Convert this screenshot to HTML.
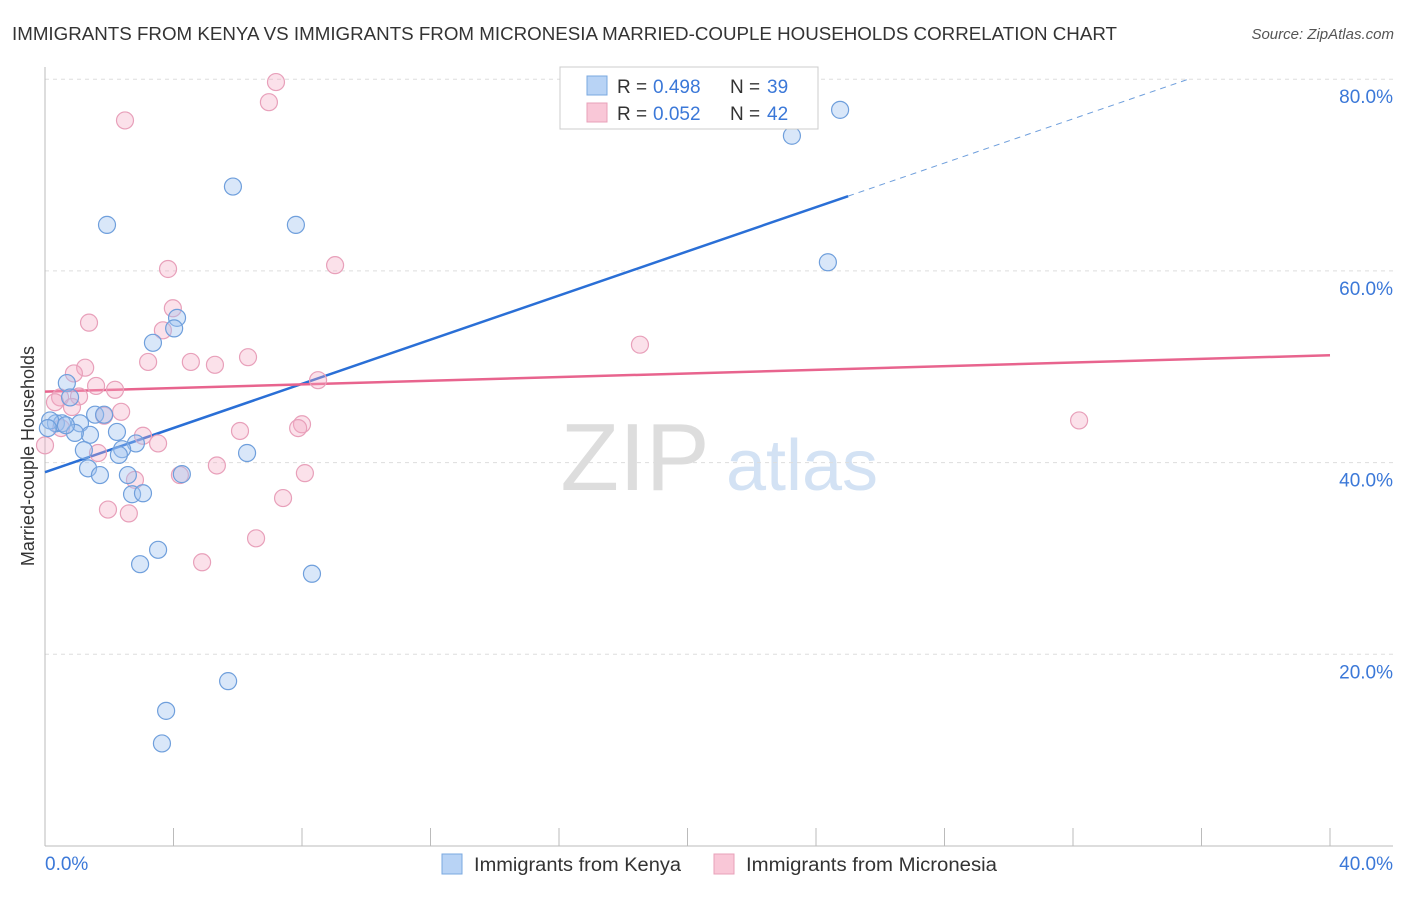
<!DOCTYPE html>
<html><head><meta charset="utf-8">
<style>
body{margin:0;background:#fff;font-family:"Liberation Sans",sans-serif;}
svg text{font-family:"Liberation Sans",sans-serif;}
</style></head>
<body>
<svg id="chart" width="1406" height="892">
<text x="12" y="40" font-size="18" fill="#333" textLength="1105" lengthAdjust="spacingAndGlyphs">IMMIGRANTS FROM KENYA VS IMMIGRANTS FROM MICRONESIA MARRIED-COUPLE HOUSEHOLDS CORRELATION CHART</text>
<text x="1394" y="39" font-size="15" fill="#555" text-anchor="end" font-style="italic">Source: ZipAtlas.com</text>
<g>
<text x="635" y="490" font-size="96" fill="#ddd" font-family="Liberation Serif" text-anchor="middle">ZIP</text>
<text x="802" y="490" font-size="72" fill="#d3e2f4" text-anchor="middle">atlas</text>
</g>
<g id="grid"></g>
<g id="axes"></g>
<g id="lines"></g>
<g id="points"></g>
<text transform="translate(34,456) rotate(-90)" font-size="18" fill="#333" text-anchor="middle">Married-couple Households</text>
<g>
<rect x="560" y="67" width="258" height="62" fill="#fff" stroke="#ccc"/>
<rect x="587" y="76" width="20" height="19" fill="#b8d3f5" stroke="#7aa8e0"/>
<rect x="587" y="103" width="20" height="19" fill="#f9c7d7" stroke="#e8a0ba"/>
<text x="617" y="93" font-size="19" fill="#333">R =</text><text x="653" y="93" font-size="19" fill="#3b78d8">0.498</text>
<text x="730" y="93" font-size="19" fill="#333">N =</text><text x="767" y="93" font-size="19" fill="#3b78d8">39</text>
<text x="617" y="120" font-size="19" fill="#333">R =</text><text x="653" y="120" font-size="19" fill="#3b78d8">0.052</text>
<text x="730" y="120" font-size="19" fill="#333">N =</text><text x="767" y="120" font-size="19" fill="#3b78d8">42</text>
</g>
<g>
<rect x="442" y="854" width="20" height="20" fill="#b8d3f5" stroke="#7aa8e0"/>
<text x="474" y="871" font-size="19" fill="#333" textLength="207" lengthAdjust="spacingAndGlyphs">Immigrants from Kenya</text>
<rect x="714" y="854" width="20" height="20" fill="#f9c7d7" stroke="#e8a0ba"/>
<text x="746" y="871" font-size="19" fill="#333" textLength="251" lengthAdjust="spacingAndGlyphs">Immigrants from Micronesia</text>
</g>
</svg>
<script>
const yTicks=[20,40,60,80];
const yTickLabels=["20.0%","40.0%","60.0%","80.0%"];
const xEndLabels=["0.0%","40.0%"];
const kenyaX=[24.75,23.25,5.85,1.93,7.81,24.37,4.11,4.02,3.36,0.68,0.78,1.56,1.84,1.09,0.34,0.53,0.16,1.40,0.93,2.24,2.83,1.21,2.40,2.30,6.29,1.34,1.71,2.58,4.26,2.71,3.05,3.52,2.96,8.31,5.70,3.77,3.64,0.09,0.65];
const kenyaY=[76.8,74.1,68.8,64.8,64.8,60.9,55.1,54.0,52.5,48.3,46.8,45.0,45.0,44.1,44.1,44.1,44.4,42.9,43.1,43.2,42.0,41.3,41.4,40.8,41.0,39.4,38.7,38.7,38.8,36.7,36.8,30.9,29.4,28.4,17.2,14.1,10.7,43.6,43.9];
const micX=[7.19,6.97,2.49,3.83,9.03,3.98,1.37,3.67,18.52,3.21,6.32,4.54,5.29,1.25,0.90,1.59,8.50,2.18,1.06,0.47,0.84,0.31,1.84,2.37,0.50,0.0,8.0,7.88,6.07,3.05,3.52,1.65,32.19,2.80,5.35,8.09,4.20,7.41,1.96,2.61,6.57,4.89];
const micY=[79.7,77.6,75.7,60.2,60.6,56.1,54.6,53.8,52.3,50.5,51.0,50.5,50.2,49.9,49.3,48.0,48.6,47.6,46.9,46.8,45.8,46.3,44.9,45.3,43.6,41.8,44.0,43.6,43.3,42.8,42.0,41.0,44.4,38.2,39.7,38.9,38.7,36.3,35.1,34.7,32.1,29.6];
const kenyaTrend=[39.0,1.152];
const micTrend=[47.4,0.095];
const NS="http://www.w3.org/2000/svg";
const xs=v=>45+v/40*1285;
const ys=v=>846-v/20*191.7;
function mk(tag,attrs,parent){const e=document.createElementNS(NS,tag);for(const k in attrs)e.setAttribute(k,attrs[k]);document.getElementById(parent).appendChild(e);return e;}
yTicks.forEach((t,i)=>{
 const g=mk('line',{x1:45,x2:1393,y1:ys(t),y2:ys(t),stroke:'#ddd','stroke-dasharray':'4,4'},'grid');
 
 
 const l=mk('text',{x:1393,y:ys(t)+24,'font-size':19,fill:'#3b78d8','text-anchor':'end'},'axes');
 l.textContent=yTickLabels[i];
 
 
});
const ax=mk('line',{x1:45,x2:45,y1:67,y2:846,stroke:'#bbb'},'axes');


const bx=mk('line',{x1:45,x2:1393,y1:846,y2:846,stroke:'#bbb'},'axes');


for(let i=0;i<=10;i++){const t=mk('line',{x1:xs(i*4),x2:xs(i*4),y1:828,y2:846,stroke:'#bbb'},'axes');
 
 }
[[0,'start',45],[40,'end',1393]].forEach((d,i)=>{const t=mk('text',{x:d[2],y:870,'font-size':19,fill:'#3b78d8','text-anchor':d[1]},'axes');t.textContent=xEndLabels[i];
 
 });
function pts(X,Y,fill,stroke,name){X.forEach((x,i)=>{const c=mk('circle',{cx:xs(x),cy:ys(Y[i]),r:8.5,fill:fill,stroke:stroke,'stroke-width':1.2},'points');
 
 });}
pts(micX,micY,'rgba(244,170,196,0.35)','#e8a0ba','point-micronesia');
pts(kenyaX,kenyaY,'rgba(160,196,240,0.4)','#6f9fdc','point-kenya');
const kEnd=25;
const l1=mk('line',{x1:xs(0),y1:ys(kenyaTrend[0]),x2:xs(kEnd),y2:ys(kenyaTrend[0]+kenyaTrend[1]*kEnd),stroke:'#2a6fd6','stroke-width':2.5},'lines');


const dEnd=(80-kenyaTrend[0])/kenyaTrend[1];
const l2=mk('line',{x1:xs(kEnd),y1:ys(kenyaTrend[0]+kenyaTrend[1]*kEnd),x2:xs(dEnd),y2:ys(80),stroke:'#6f9fdc','stroke-width':1,'stroke-dasharray':'6,5'},'lines');


const l3=mk('line',{x1:xs(0),y1:ys(micTrend[0]),x2:xs(40),y2:ys(micTrend[0]+micTrend[1]*40),stroke:'#e8648e','stroke-width':2.5},'lines');


</script>
</body></html>
